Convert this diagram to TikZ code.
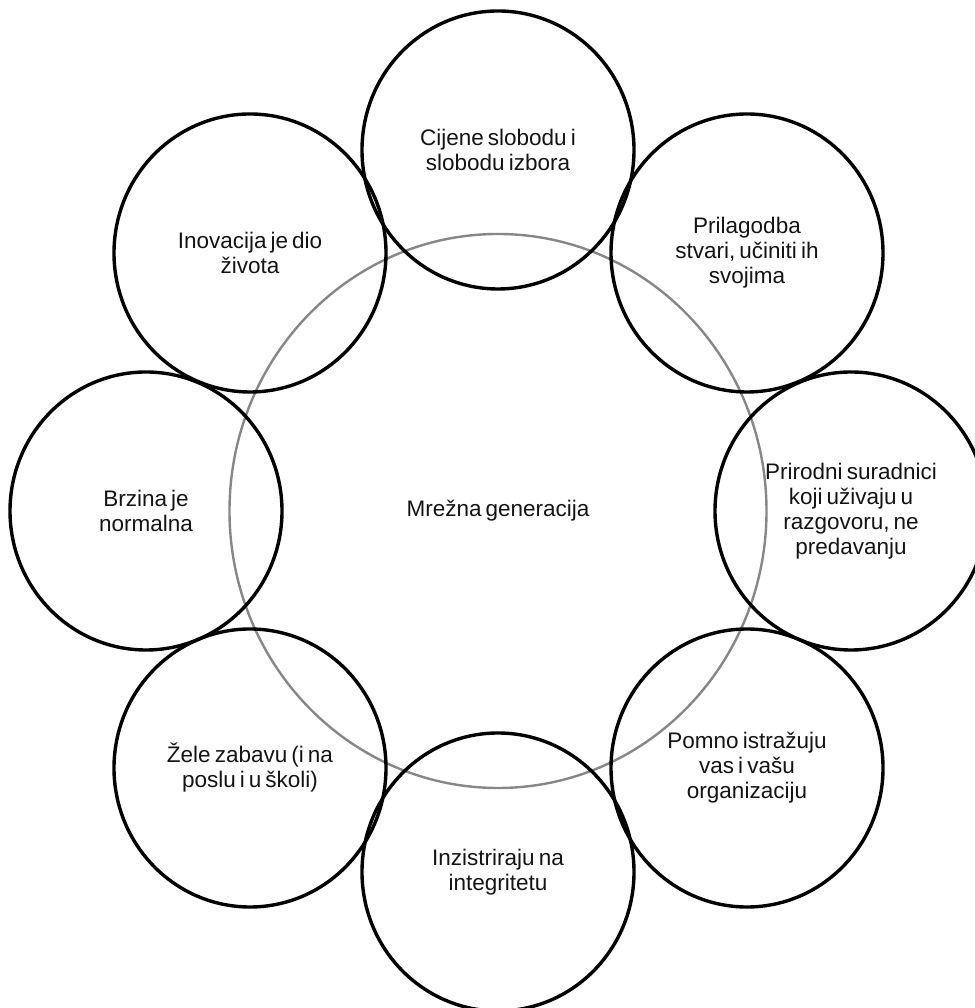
\documentclass[tikz,border=0pt]{standalone}
\usepackage{fontspec}
\setmainfont[WordSpace=0.65]{Liberation Sans}
\usetikzlibrary{shapes.geometric}
\definecolor{ringgray}{RGB}{135,135,135}
\definecolor{txt}{RGB}{20,20,20}
\tikzset{
  bubble/.style={ellipse, draw=black, line width=3.4pt, minimum width=272pt, minimum height=278pt,
    inner sep=0pt, align=center, text=txt, font=\fontsize{22.5}{25}\selectfont},
  hub/.style={ellipse, draw=ringgray, line width=2.4pt, minimum width=537pt, minimum height=554pt,
    inner sep=0pt, align=center, text=txt, font=\fontsize{22.5}{25}\selectfont}
}
\begin{document}
\begin{tikzpicture}[x=1pt,y=1pt]
\useasboundingbox (0,0) rectangle (974,1008);
\node[hub] (hub) at (498,497) {Mrežna generacija};
\node[bubble] (n1) at (498,858) {Cijene slobodu i\\slobodu izbora};
\node[bubble] (n2) at (747,755) {Prilagodba\\stvari, učiniti ih\\svojima};
\node[bubble] (n3) at (851,497) {Prirodni suradnici\\koji uživaju u\\razgovoru, ne\\predavanju};
\node[bubble] (n4) at (747,240) {Pomno istražuju\\vas i vašu\\organizaciju};
\node[bubble] (n5) at (498,136) {Inzistriraju na\\integritetu};
\node[bubble] (n6) at (250,240) {Žele zabavu (i na\\poslu i u školi)};
\node[bubble] (n7) at (146,497) {Brzina je\\normalna};
\node[bubble] (n8) at (250,755) {Inovacija je dio\\života};
\end{tikzpicture}
\end{document}
